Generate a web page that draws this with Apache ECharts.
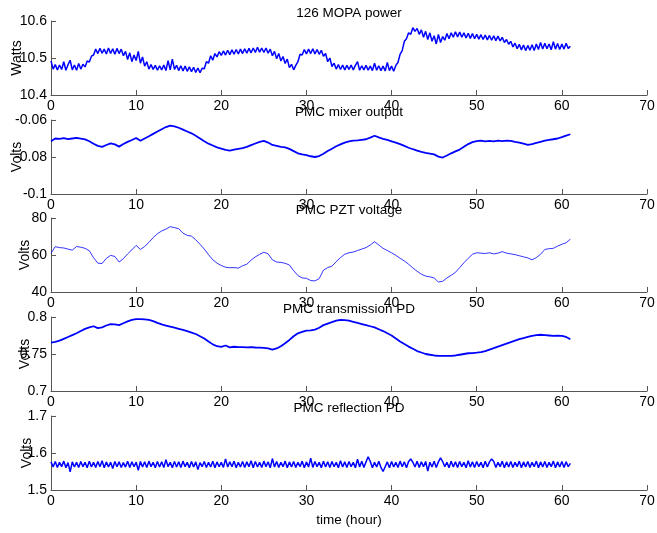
<!DOCTYPE html>
<html>
<head>
<meta charset="utf-8">
<script src="https://cdn.jsdelivr.net/npm/echarts@6/dist/echarts.min.js"></script>
<style>
  html, body { margin: 0; padding: 0; background: #fff; }
  #chart { width: 657px; height: 533px; }
</style>
</head>
<body>
<div id="chart"></div>
<script>
// sampled readings, hours from start
const powerStep = 0.25;
const mopaPower = [
  10.492, 10.470, 10.482, 10.468, 10.481, 10.469, 10.490, 10.467, 10.482, 10.494, 10.468, 10.481, 10.467, 10.485, 10.470, 10.483, 10.476, 10.492, 10.489, 10.505,
  10.508, 10.524, 10.512, 10.526, 10.513, 10.524, 10.511, 10.527, 10.512, 10.525, 10.510, 10.526, 10.512, 10.524, 10.506, 10.518, 10.496, 10.514, 10.490, 10.508,
  10.493, 10.518, 10.486, 10.503, 10.478, 10.490, 10.470, 10.482, 10.469, 10.480, 10.467, 10.479, 10.468, 10.481, 10.466, 10.493, 10.468, 10.497, 10.469, 10.480,
  10.466, 10.479, 10.465, 10.478, 10.464, 10.476, 10.463, 10.475, 10.461, 10.473, 10.460, 10.472, 10.471, 10.490, 10.486, 10.506, 10.494, 10.512, 10.503, 10.517,
  10.507, 10.519, 10.508, 10.521, 10.509, 10.522, 10.510, 10.523, 10.511, 10.524, 10.512, 10.525, 10.513, 10.526, 10.514, 10.527, 10.515, 10.529, 10.516, 10.527,
  10.515, 10.527, 10.513, 10.524, 10.506, 10.518, 10.498, 10.512, 10.492, 10.504, 10.485, 10.497, 10.474, 10.483, 10.468, 10.480, 10.490, 10.510, 10.508, 10.523,
  10.511, 10.524, 10.512, 10.525, 10.511, 10.523, 10.510, 10.521, 10.505, 10.512, 10.490, 10.500, 10.477, 10.486, 10.470, 10.482, 10.469, 10.481, 10.468, 10.480,
  10.469, 10.481, 10.468, 10.480, 10.490, 10.467, 10.479, 10.468, 10.480, 10.467, 10.478, 10.466, 10.486, 10.467, 10.479, 10.466, 10.478, 10.465, 10.488, 10.466,
  10.478, 10.464, 10.480, 10.488, 10.510, 10.520, 10.545, 10.552, 10.568, 10.564, 10.582, 10.572, 10.580, 10.564, 10.576, 10.556, 10.572, 10.550, 10.568, 10.545,
  10.560, 10.538, 10.564, 10.542, 10.558, 10.548, 10.566, 10.552, 10.568, 10.556, 10.571, 10.557, 10.570, 10.556, 10.568, 10.554, 10.567, 10.553, 10.566, 10.552,
  10.564, 10.551, 10.563, 10.550, 10.562, 10.549, 10.561, 10.548, 10.560, 10.547, 10.559, 10.546, 10.556, 10.542, 10.550, 10.537, 10.545, 10.530, 10.540, 10.525,
  10.537, 10.522, 10.535, 10.520, 10.534, 10.521, 10.536, 10.520, 10.538, 10.523, 10.542, 10.524, 10.540, 10.525, 10.538, 10.522, 10.544, 10.524, 10.539, 10.523,
  10.538, 10.524, 10.540, 10.526, 10.532
];

const halfStep = 0.5;
const mixerOut = [
  -0.0715, -0.0700, -0.0702, -0.0698, -0.0703, -0.0700, -0.0697, -0.0701, -0.0705, -0.0715, -0.0728, -0.0740, -0.0745, -0.0735, -0.0726, -0.0732, -0.0744, -0.0730, -0.0718, -0.0708,
  -0.0697, -0.0712, -0.0700, -0.0688, -0.0675, -0.0662, -0.0650, -0.0638, -0.0630, -0.0634, -0.0642, -0.0652, -0.0662, -0.0672, -0.0685, -0.0700, -0.0715, -0.0728, -0.0738, -0.0748,
  -0.0755, -0.0762, -0.0765, -0.0760, -0.0756, -0.0752, -0.0745, -0.0736, -0.0727, -0.0718, -0.0713, -0.0722, -0.0735, -0.0740, -0.0745, -0.0748, -0.0756, -0.0768, -0.0780, -0.0786,
  -0.0790, -0.0796, -0.0800, -0.0795, -0.0782, -0.0768, -0.0755, -0.0742, -0.0732, -0.0722, -0.0716, -0.0712, -0.0710, -0.0707, -0.0704, -0.0695, -0.0685, -0.0694, -0.0702, -0.0708,
  -0.0715, -0.0722, -0.0730, -0.0740, -0.0750, -0.0758, -0.0765, -0.0772, -0.0778, -0.0782, -0.0786, -0.0798, -0.0803, -0.0792, -0.0780, -0.0770, -0.0760, -0.0745, -0.0730, -0.0720,
  -0.0714, -0.0712, -0.0716, -0.0713, -0.0715, -0.0712, -0.0714, -0.0711, -0.0713, -0.0718, -0.0722, -0.0728, -0.0735, -0.0730, -0.0724, -0.0718, -0.0712, -0.0708, -0.0704, -0.0700,
  -0.0693, -0.0684, -0.0677
];

const pztVoltage = [
  61.0, 64.5, 64.0, 63.8, 63.2, 62.6, 64.6, 64.2, 63.6, 62.3, 58.5, 55.6, 55.4, 58.2, 59.8, 59.2, 56.2, 58.0, 60.6, 62.8,
  65.2, 63.0, 64.6, 66.8, 69.4, 71.5, 73.0, 74.0, 75.3, 74.8, 74.2, 71.8, 70.6, 70.2, 68.2, 65.8, 63.2, 60.2, 57.4, 55.6,
  54.3, 53.4, 53.1, 53.2, 52.9, 54.2, 55.0, 57.2, 59.0, 60.3, 61.5, 60.6, 57.4, 56.2, 56.0, 55.5, 54.6, 51.5, 48.9, 47.6,
  47.4, 46.2, 46.0, 47.2, 51.8, 53.2, 54.0, 56.4, 58.6, 60.4, 61.2, 61.6, 62.4, 63.2, 64.0, 65.4, 67.2, 65.4, 63.6, 62.4,
  61.2, 59.8, 58.2, 56.8, 55.0, 53.0, 51.2, 49.6, 48.6, 48.2, 47.6, 45.4, 45.8, 47.6, 49.0, 50.6, 53.2, 55.8, 58.2, 60.4,
  61.2, 61.0, 60.8, 61.2, 60.6, 61.0, 61.8, 61.0, 60.6, 60.2, 59.6, 59.0, 58.4, 57.4, 58.6, 60.4, 63.0, 63.4, 63.6, 64.8,
  65.8, 66.6, 68.6
];

const transPD = [
  0.7655, 0.7665, 0.7680, 0.7705, 0.7730, 0.7755, 0.7780, 0.7810, 0.7840, 0.7860, 0.7875, 0.7850, 0.7860, 0.7885, 0.7905, 0.7900, 0.7890, 0.7915, 0.7940, 0.7960,
  0.7972, 0.7970, 0.7968, 0.7960, 0.7945, 0.7920, 0.7900, 0.7885, 0.7870, 0.7855, 0.7840, 0.7825, 0.7810, 0.7790, 0.7770, 0.7740, 0.7710, 0.7670, 0.7630, 0.7605,
  0.7595, 0.7615, 0.7590, 0.7598, 0.7594, 0.7592, 0.7590, 0.7592, 0.7588, 0.7585, 0.7582, 0.7575, 0.7560, 0.7575, 0.7605, 0.7645, 0.7690, 0.7740, 0.7780, 0.7800,
  0.7815, 0.7820, 0.7830, 0.7855, 0.7890, 0.7910, 0.7930, 0.7950, 0.7962, 0.7958, 0.7950, 0.7935, 0.7920, 0.7905, 0.7890, 0.7875, 0.7860, 0.7835, 0.7810, 0.7780,
  0.7750, 0.7710, 0.7670, 0.7635, 0.7600, 0.7570, 0.7540, 0.7520, 0.7500, 0.7490, 0.7480, 0.7476, 0.7475, 0.7474, 0.7476, 0.7480, 0.7490, 0.7500, 0.7510, 0.7512,
  0.7518, 0.7525, 0.7540, 0.7560, 0.7580, 0.7600, 0.7620, 0.7640, 0.7660, 0.7680, 0.7700, 0.7715, 0.7730, 0.7745, 0.7755, 0.7760, 0.7755, 0.7750, 0.7745, 0.7748,
  0.7745, 0.7730, 0.7700
];

const reflPD = [
  1.576, 1.562, 1.577, 1.561, 1.575, 1.563, 1.578, 1.560, 1.574, 1.549, 1.576, 1.562, 1.575, 1.561, 1.577, 1.563, 1.575, 1.560, 1.578, 1.562,
  1.575, 1.561, 1.577, 1.563, 1.579, 1.560, 1.576, 1.562, 1.575, 1.558, 1.577, 1.563, 1.576, 1.561, 1.574, 1.562, 1.578, 1.561, 1.576, 1.563,
  1.575, 1.553, 1.577, 1.562, 1.576, 1.561, 1.578, 1.563, 1.575, 1.560, 1.577, 1.562, 1.576, 1.561, 1.582, 1.563, 1.575, 1.560, 1.577, 1.562,
  1.576, 1.561, 1.578, 1.563, 1.575, 1.560, 1.577, 1.562, 1.576, 1.555, 1.574, 1.563, 1.577, 1.561, 1.575, 1.562, 1.578, 1.560, 1.576, 1.563,
  1.575, 1.561, 1.584, 1.562, 1.576, 1.563, 1.578, 1.560, 1.575, 1.562, 1.577, 1.561, 1.576, 1.563, 1.579, 1.560, 1.577, 1.562, 1.575, 1.561,
  1.578, 1.563, 1.576, 1.560, 1.585, 1.562, 1.577, 1.561, 1.575, 1.563, 1.578, 1.560, 1.576, 1.562, 1.577, 1.561, 1.575, 1.563, 1.578, 1.560,
  1.576, 1.562, 1.586, 1.561, 1.577, 1.563, 1.575, 1.560, 1.578, 1.562, 1.576, 1.561, 1.577, 1.563, 1.575, 1.560, 1.579, 1.562, 1.576, 1.561,
  1.577, 1.563, 1.575, 1.560, 1.583, 1.562, 1.578, 1.561, 1.576, 1.590, 1.577, 1.560, 1.575, 1.562, 1.578, 1.561, 1.550, 1.563, 1.576, 1.560,
  1.577, 1.562, 1.575, 1.561, 1.578, 1.563, 1.576, 1.560, 1.577, 1.584, 1.575, 1.562, 1.578, 1.561, 1.576, 1.563, 1.577, 1.551, 1.575, 1.562,
  1.578, 1.561, 1.576, 1.587, 1.577, 1.563, 1.575, 1.560, 1.578, 1.562, 1.576, 1.561, 1.577, 1.563, 1.575, 1.560, 1.579, 1.562, 1.576, 1.561,
  1.577, 1.563, 1.575, 1.560, 1.578, 1.562, 1.576, 1.584, 1.577, 1.561, 1.575, 1.563, 1.578, 1.560, 1.576, 1.562, 1.577, 1.561, 1.575, 1.563,
  1.578, 1.560, 1.576, 1.562, 1.577, 1.561, 1.575, 1.563, 1.578, 1.560, 1.576, 1.562, 1.577, 1.561, 1.575, 1.563, 1.578, 1.560, 1.576, 1.562,
  1.577, 1.561, 1.576, 1.563, 1.572
];

const titles = ['126 MOPA power', 'PMC mixer output', 'PMC PZT voltage', 'PMC transmission PD', 'PMC reflection PD'];
const yNames = ['Watts', 'Volts', 'Volts', 'Volts', 'Volts'];
const yMin = [10.4, -0.1, 40, 0.7, 1.5];
const yMax = [10.6, -0.06, 80, 0.8, 1.7];
const yInterval = [0.1, 0.02, 20, 0.05, 0.1];
const xTicks = [0, 70, 10];

const panels = [
  {data: mopaPower, step: powerStep, width: 1.5, gap: 27},
  {data: mixerOut, step: halfStep, width: 1.8, gap: 27},
  {data: pztVoltage, step: halfStep, width: 0.8, gap: 19},
  {data: transPD, step: halfStep, width: 1.8, gap: 19},
  {data: reflPD, step: powerStep, width: 1.5, gap: 17}
];

const tops = [21, 120, 218, 317, 416];
const axisColor = '#555';
const font = 'Liberation Sans, Arial, sans-serif';

const grid = [], xAxis = [], yAxis = [], series = [], title = [];
panels.forEach((p, i) => {
  grid.push({left: 51, right: 10, top: tops[i], height: 74, containLabel: false, outerBoundsMode: 'none'});
  title.push({
    text: titles[i], left: 349, top: tops[i] - 15, textAlign: 'center', padding: 0,
    textStyle: {fontSize: 13.5, fontWeight: 'normal', color: '#000', fontFamily: font}
  });
  xAxis.push({
    type: 'value', gridIndex: i, min: xTicks[0], max: xTicks[1], interval: xTicks[2],
    name: i === 4 ? 'time (hour)' : '', nameLocation: 'middle', nameGap: 23, nameMoveOverlap: false,
    nameTextStyle: {fontSize: 13.5, color: '#000', fontFamily: font},
    axisLine: {show: true, lineStyle: {color: axisColor}},
    axisTick: {show: true, inside: true, length: 5, lineStyle: {color: axisColor}},
    axisLabel: {margin: 4, fontSize: 14, color: '#000', fontFamily: font},
    splitLine: {show: false}
  });
  yAxis.push({
    type: 'value', gridIndex: i, min: yMin[i], max: yMax[i], interval: yInterval[i],
    name: yNames[i], nameLocation: 'middle', nameGap: p.gap, nameMoveOverlap: false,
    nameTextStyle: {fontSize: 14, color: '#000', fontFamily: font},
    axisLine: {show: true, lineStyle: {color: axisColor}},
    axisTick: {show: true, inside: true, length: 5, lineStyle: {color: axisColor}},
    axisLabel: {margin: 4, fontSize: 14, color: '#000', fontFamily: font},
    splitLine: {show: false}
  });
  series.push({
    type: 'line', xAxisIndex: i, yAxisIndex: i, showSymbol: false,
    lineStyle: {color: '#0000ff', width: p.width},
    data: p.data.map((v, k) => [k * p.step, v])
  });
});

const myChart = echarts.init(document.getElementById('chart'));
myChart.setOption({
  animation: false,
  backgroundColor: '#fff',
  title: title,
  grid: grid,
  xAxis: xAxis,
  yAxis: yAxis,
  series: series
});
</script>
</body>
</html>
